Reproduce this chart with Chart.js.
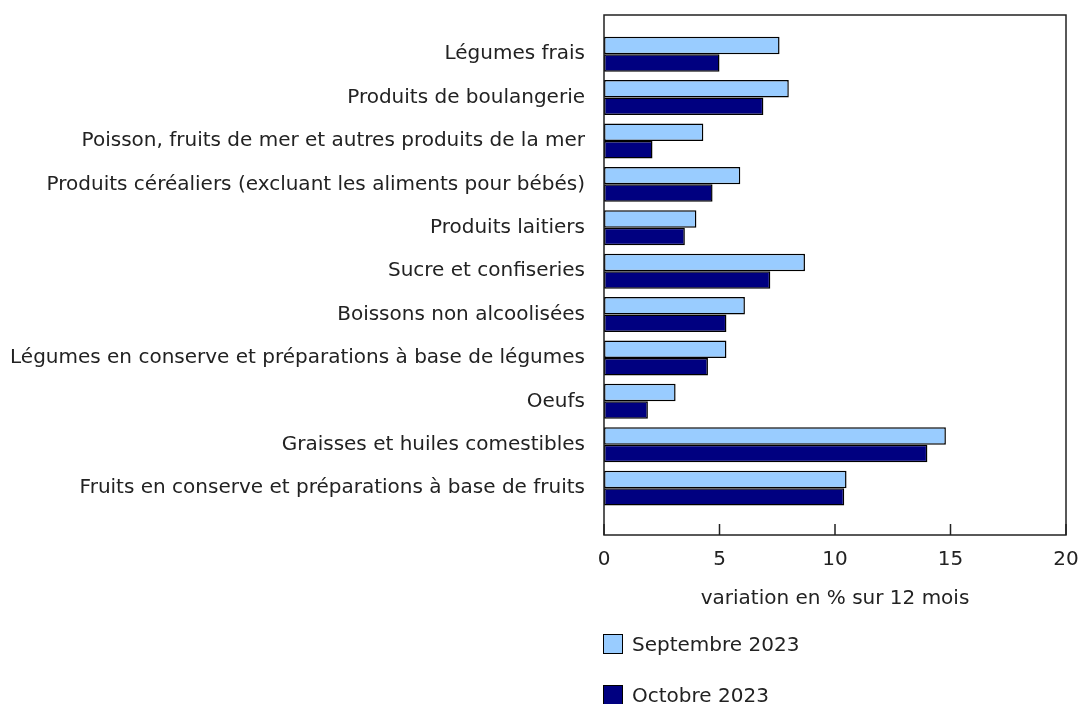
<!DOCTYPE html>
<html>
<head>
<meta charset="utf-8">
<script src="https://cdn.jsdelivr.net/npm/chart.js@4"></script>
<style>
  body { margin: 0; background: #fff; font-family: "DejaVu Sans", Verdana, sans-serif; }
  #wrap { position: relative; width: 1080px; height: 704px; }
  #legend { position: absolute; left: 603px; top: 634px; }
  .item { display: flex; align-items: center; height: 20px; margin-bottom: 31px; font-size: 20px; color: #222; }
  .box { width: 18px; height: 18px; border: 1px solid #000; margin-right: 9px; }
</style>
</head>
<body>
<div id="wrap">
  <canvas id="chart" width="1080" height="704"></canvas>
  <div id="legend"></div>
</div>
<script>
const categories = [
    'Légumes frais',
    'Produits de boulangerie',
    'Poisson, fruits de mer et autres produits de la mer',
    'Produits céréaliers (excluant les aliments pour bébés)',
    'Produits laitiers',
    'Sucre et confiseries',
    'Boissons non alcoolisées',
    'Légumes en conserve et préparations à base de légumes',
    'Oeufs',
    'Graisses et huiles comestibles',
    'Fruits en conserve et préparations à base de fruits'
];
const seriesNames = ['Septembre 2023', 'Octobre 2023'];
const septembre = [7.6, 8.0, 4.3, 5.9, 4.0, 8.7, 6.1, 5.3, 3.1, 14.8, 10.5];
const octobre = [5.0, 6.9, 2.1, 4.7, 3.5, 7.2, 5.3, 4.5, 1.9, 14.0, 10.4];
const xTicks = [0, 5, 10, 15, 20];
const colors = ['#99ccff', '#000080'];

const font = { family: 'DejaVu Sans', size: 20 };

// frame round the plot + small inner ticks on the x axis
const framePlugin = {
    id: 'frame',
    afterDatasetsDraw(chart) {
        const { ctx, chartArea: a, scales: { x } } = chart;
        ctx.save();
        ctx.strokeStyle = '#222';
        ctx.lineWidth = 1.5;
        ctx.strokeRect(a.left, a.top, a.right - a.left, a.bottom - a.top);
        ctx.beginPath();
        xTicks.forEach(v => {
            const px = x.getPixelForValue(v);
            ctx.moveTo(px, a.bottom);
            ctx.lineTo(px, a.bottom - 11);
        });
        ctx.stroke();
        ctx.restore();
    }
};

const toPoints = vals => vals.map((v, i) => ({ x: v, y: i }));

new Chart(document.getElementById('chart'), {
    type: 'bar',
    data: {
        datasets: [
            { label: seriesNames[0], data: toPoints(septembre), backgroundColor: colors[0] },
            { label: seriesNames[1], data: toPoints(octobre), backgroundColor: colors[1] }
        ]
    },
    options: {
        indexAxis: 'y',
        responsive: false,
        animation: false,
        layout: { padding: { top: 15, right: 14, bottom: 89, left: 0 } },
        datasets: {
            bar: {
                borderColor: '#000',
                borderWidth: 1.5,
                borderSkipped: false,
                categoryPercentage: 0.806,
                barPercentage: 1
            }
        },
        plugins: { legend: { display: false }, tooltip: { enabled: false } },
        scales: {
            x: {
                type: 'linear',
                min: 0,
                max: 20,
                afterBuildTicks: s => { s.ticks = xTicks.map(v => ({ value: v })); },
                afterFit: s => { s.height = 80; s.paddingLeft = 0; s.paddingRight = 0; },
                grid: { display: false, drawTicks: false },
                border: { display: false },
                ticks: { color: '#222', font, padding: 13 },
                title: { display: true, text: 'variation en % sur 12 mois', color: '#222', font }
            },
            y: {
                type: 'linear',
                reverse: true,
                offset: false,
                min: -0.903,
                max: 11.08,
                afterBuildTicks: s => { s.ticks = categories.map((c, i) => ({ value: i })); },
                afterFit: s => { s.width = 604; s.paddingTop = 0; s.paddingBottom = 0; },
                grid: { display: false, drawTicks: false },
                border: { display: false },
                ticks: {
                    autoSkip: false,
                    color: '#222',
                    font,
                    padding: 19,
                    callback: v => categories[v]
                }
            }
        }
    },
    plugins: [framePlugin]
});

// legend, one item per line
const legend = document.getElementById('legend');
seriesNames.forEach((name, i) => {
    const item = document.createElement('div');
    item.className = 'item';
    item.innerHTML = `<span class="box" style="background:${colors[i]}"></span><span>${name}</span>`;
    legend.appendChild(item);
});
</script>
</body>
</html>
